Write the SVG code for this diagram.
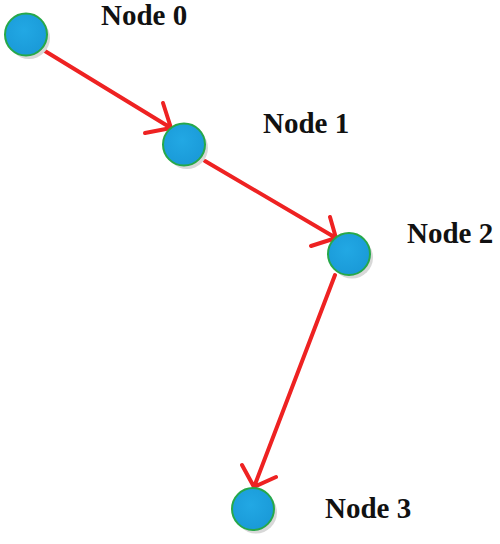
<svg xmlns="http://www.w3.org/2000/svg" width="500" height="544" viewBox="0 0 500 544">
<defs>
<radialGradient id="g" cx="0.45" cy="0.4" r="0.6">
<stop offset="0" stop-color="#22a8e4"/>
<stop offset="1" stop-color="#1a9ad8"/>
</radialGradient>
<style>
.sh{fill:#d8d8d8}
.nd{fill:url(#g);stroke:#27a84a;stroke-width:2}
.lb{font-family:"Liberation Serif",serif;font-weight:bold;font-size:29px;fill:#111}
.ed{stroke:#ee2222;stroke-width:4;fill:none;stroke-linecap:round;stroke-linejoin:round}
</style>
</defs>
<rect width="500" height="544" fill="#fff"/>
<g id="connectors">
<path class="ed" d="M40,48 L171,128 M163,103 L171,128 L145,133"/>
<path class="ed" d="M205,161 L336,238 M330,217 L336,238 L311,246"/>
<path class="ed" d="M335,275 L254,487 M242,465 L254,487 L276,477"/>
</g>
<g id="node0">
<circle class="sh" cx="29" cy="38" r="21"/>
<circle class="nd" cx="26" cy="34.5" r="21"/>
<text class="lb" x="101" y="25">Node 0</text>
</g>
<g id="node1">
<circle class="sh" cx="187" cy="148" r="21"/>
<circle class="nd" cx="184" cy="144.5" r="21"/>
<text class="lb" x="263" y="133">Node 1</text>
</g>
<g id="node2">
<circle class="sh" cx="352" cy="257.5" r="21"/>
<circle class="nd" cx="349" cy="254" r="21"/>
<text class="lb" x="407" y="243">Node 2</text>
</g>
<g id="node3">
<circle class="sh" cx="256" cy="512.5" r="21"/>
<circle class="nd" cx="253" cy="509" r="21"/>
<text class="lb" x="325" y="518">Node 3</text>
</g>
</svg>
